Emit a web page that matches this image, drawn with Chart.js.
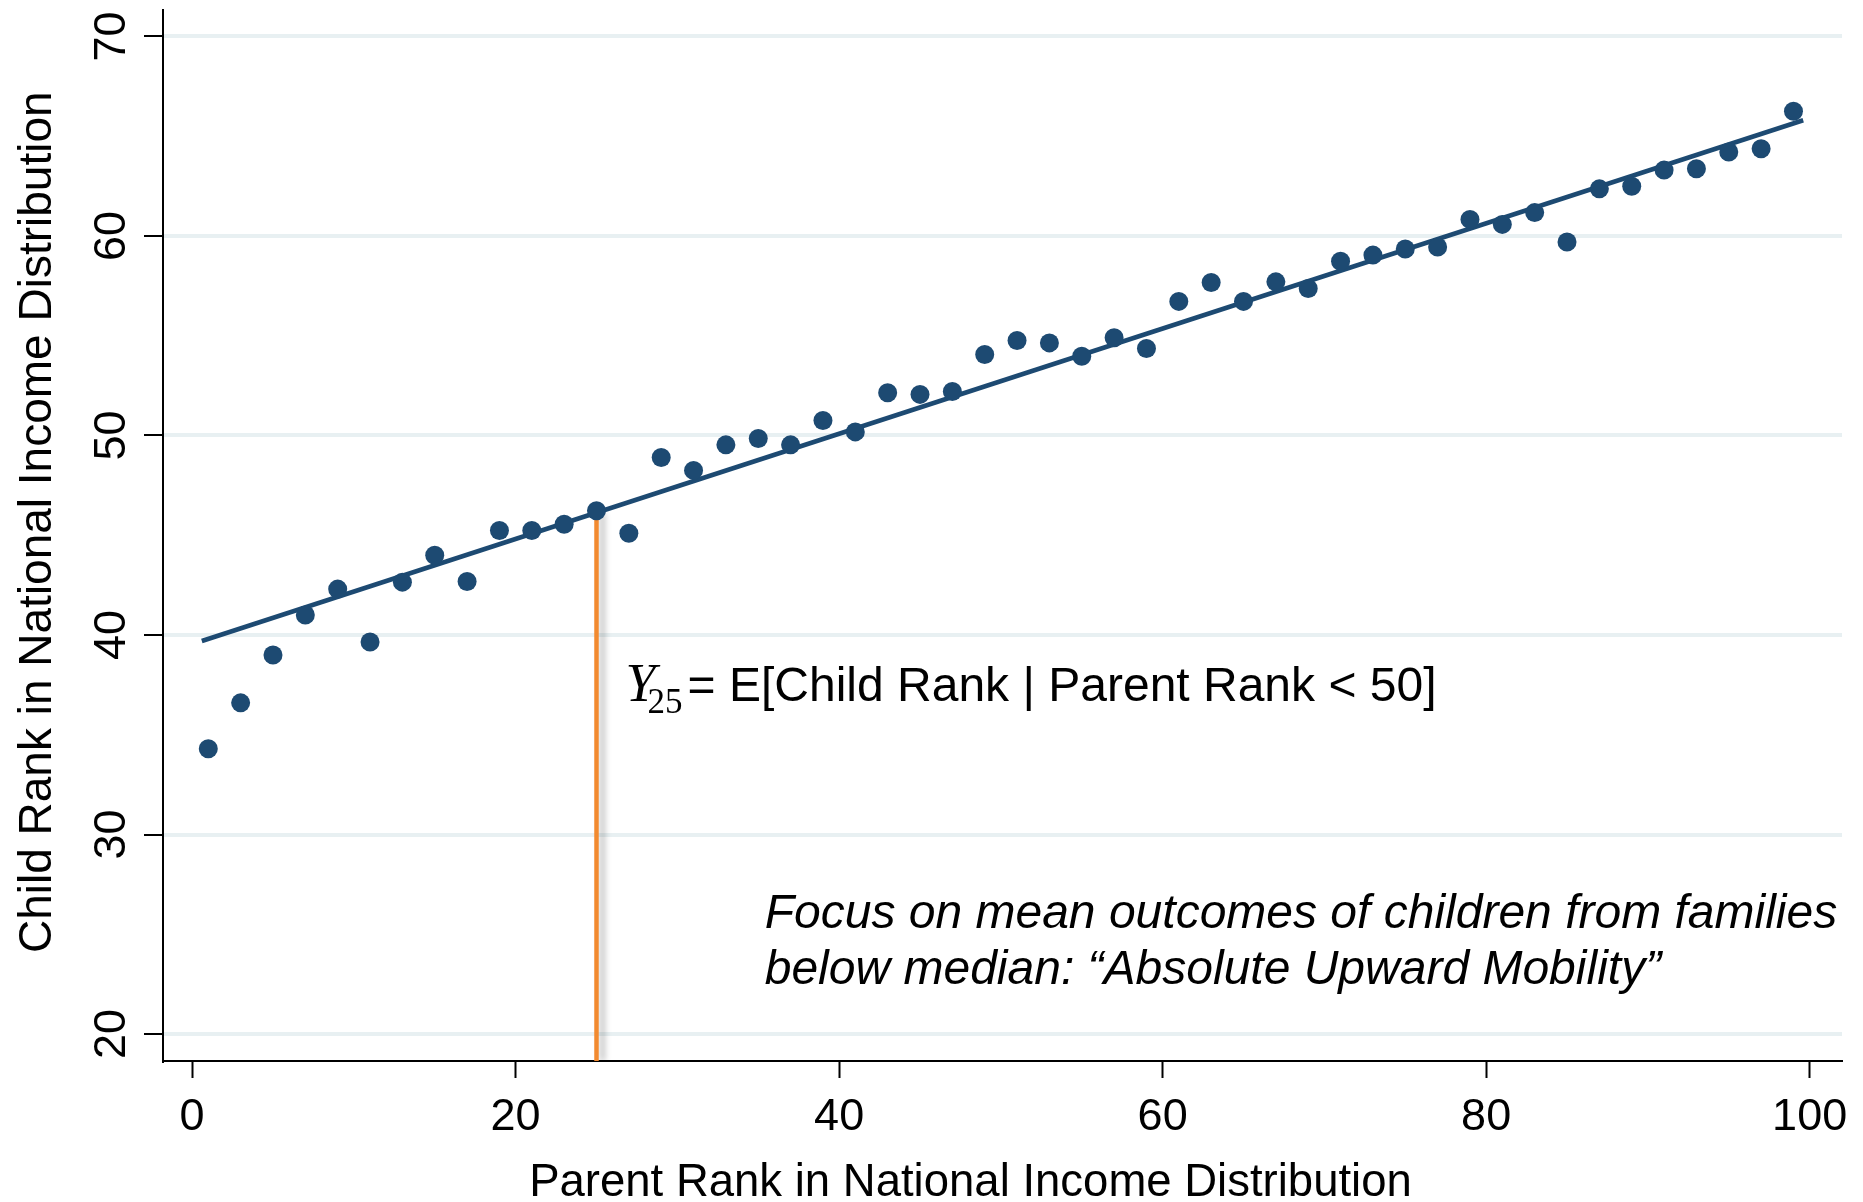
<!DOCTYPE html>
<html>
<head>
<meta charset="utf-8">
<script src="https://cdn.jsdelivr.net/npm/chart.js@4/dist/chart.umd.min.js"></script>
<style>
    body { margin: 0; background: #fff; }
    #chart { display: block; }
</style>
</head>
<body>
<canvas id="chart" width="1863" height="1202"></canvas>
<script>
// binned scatter: parent rank (2-pt bins) vs mean child rank
const parentRank = [1, 3, 5, 7, 9, 11, 13, 15, 17, 19, 21, 23, 25, 27, 29, 31, 33, 35, 37, 39,
    41, 43, 45, 47, 49, 51, 53, 55, 57, 59, 61, 63, 65, 67, 69, 71, 73, 75, 77, 79,
    81, 83, 85, 87, 89, 91, 93, 95, 97, 99];
const childRank = [34.3, 36.6, 39.0, 41.0, 42.3, 39.65, 42.65, 44.0, 42.68, 45.24,
    45.24, 45.55, 46.23, 45.1, 48.9, 48.25, 49.53, 49.85, 49.53, 50.75,
    50.18, 52.14, 52.06, 52.2, 54.06, 54.76, 54.64, 53.97, 54.9, 54.36,
    56.72, 57.67, 56.72, 57.7, 57.37, 58.73, 59.04, 59.35, 59.45, 60.83,
    60.58, 61.17, 59.7, 62.36, 62.49, 63.3, 63.37, 64.21, 64.37, 66.25];

// linear fit at both ends
const fitX = [0.6, 99.6];
const fitY = [39.7, 65.8];

// Y25 marker
const markerX = [25, 25];
const markerTopY = 46.1;

const xTicks = [0, 20, 40, 60, 80, 100];
const yTicks = [20, 30, 40, 50, 60, 70];
const xRange = [-1.8, 102.0];
const yRange = [18.65, 71.35];

const xTitle = 'Parent Rank in National Income Distribution';
const yTitle = 'Child Rank in National Income Distribution';
const noteLines = ['Focus on mean outcomes of children from families',
    'below median: \u201cAbsolute Upward Mobility\u201d'];
const y25Text = '= E[Child Rank | Parent Rank < 50]';

const navy = '#1d4a72';
const orange = '#f28a30';
const sans = '"Liberation Sans", Arial, sans-serif';
const serif = '"Liberation Serif", "DejaVu Serif", serif';

Chart.defaults.font.family = sans;
Chart.defaults.color = '#000';

function toPoints(xs, ys) {
    return xs.map((x, i) => ({ x: x, y: ys[i] }));
}

// shadow behind the orange line, plus all the hand placed text
const decorations = {
    id: 'decorations',
    beforeDatasetDraw(chart, args) {
        if (args.index === 2) {
            const ctx = chart.ctx;
            ctx.save();
            ctx.shadowColor = 'rgba(0,0,0,0.28)';
            ctx.shadowBlur = 6;
            ctx.shadowOffsetX = 6;
        }
    },
    afterDatasetDraw(chart, args) {
        if (args.index === 2) chart.ctx.restore();
    },
    afterDraw(chart) {
        const ctx = chart.ctx;
        const xs = chart.scales.x;
        const ys = chart.scales.y;
        const area = chart.chartArea;
        ctx.save();
        ctx.fillStyle = '#000';

        // y tick labels, rotated
        ctx.font = '45px ' + sans;
        ctx.textAlign = 'center';
        ctx.textBaseline = 'alphabetic';
        yTicks.forEach(v => {
            ctx.save();
            ctx.translate(area.left - 38, ys.getPixelForValue(v));
            ctx.rotate(-Math.PI / 2);
            ctx.fillText(String(v), 0, 0);
            ctx.restore();
        });

        // axis titles
        ctx.font = '46px ' + sans;
        ctx.save();
        ctx.translate(51, (area.top + area.bottom) / 2 - 13);
        ctx.rotate(-Math.PI / 2);
        ctx.fillText(yTitle, 0, 0);
        ctx.restore();
        ctx.font = '45.5px ' + sans;
        ctx.fillText(xTitle, (area.left + area.right) / 2 - 32, 1196);

        // Y25 label
        const lx = xs.getPixelForValue(26.8);
        const ly = ys.getPixelForValue(36.7);
        ctx.textAlign = 'left';
        ctx.font = 'italic 54px ' + serif;
        ctx.fillText('Y', lx, ly);
        ctx.font = '35px ' + serif;
        ctx.fillText('25', lx + 22, ly + 12);
        ctx.font = '48px ' + sans;
        ctx.fillText(y25Text, lx + 62, ly);

        // italic note
        ctx.font = 'italic 48px ' + sans;
        const nx = xs.getPixelForValue(35.4);
        const ny = ys.getPixelForValue(25.3);
        noteLines.forEach((t, i) => ctx.fillText(t, nx, ny + i * 56));
        ctx.restore();
    }
};

const config = {
    type: 'scatter',
    data: {
        datasets: [
            {
                label: 'bins',
                data: toPoints(parentRank, childRank),
                backgroundColor: navy,
                borderWidth: 0,
                pointRadius: 9.5,
                order: 0
            },
            {
                label: 'fit',
                data: toPoints(fitX, fitY),
                showLine: true,
                borderColor: navy,
                borderWidth: 4.5,
                pointRadius: 0,
                order: 1
            },
            {
                label: 'y25',
                data: toPoints(markerX, [yRange[0], markerTopY]),
                showLine: true,
                borderColor: orange,
                borderWidth: 4.5,
                pointRadius: 0,
                order: 2
            }
        ]
    },
    options: {
        responsive: false,
        animation: false,
        devicePixelRatio: 1,
        layout: {
            padding: { top: 7, right: 21, left: 0, bottom: 0 }
        },
        plugins: {
            legend: { display: false },
            tooltip: { enabled: false }
        },
        scales: {
            x: {
                type: 'linear',
                min: xRange[0],
                max: xRange[1],
                afterBuildTicks: scale => {
                    scale.ticks = xTicks.map(v => ({ value: v }));
                },
                afterFit: scale => {
                    scale.height = 141;
                    scale.paddingLeft = 0;
                    scale.paddingRight = 0;
                },
                border: { display: true, color: '#000', width: 2 },
                grid: {
                    drawOnChartArea: false,
                    tickColor: '#000',
                    tickWidth: 2,
                    tickLength: 17
                },
                ticks: {
                    font: { size: 45, lineHeight: 1.2 },
                    padding: 13,
                    maxRotation: 0
                }
            },
            y: {
                type: 'linear',
                min: yRange[0],
                max: yRange[1],
                afterBuildTicks: scale => {
                    scale.ticks = yTicks.map(v => ({ value: v }));
                },
                afterFit: scale => {
                    scale.width = 163;
                    scale.paddingTop = 0;
                    scale.paddingBottom = 0;
                },
                border: { display: true, color: '#000', width: 2 },
                grid: {
                    color: '#e8f0f2',
                    lineWidth: 4,
                    tickColor: '#000',
                    tickWidth: 2,
                    tickLength: 19
                },
                ticks: { display: false }
            }
        }
    },
    plugins: [decorations]
};

new Chart(document.getElementById('chart'), config);
</script>
</body>
</html>
